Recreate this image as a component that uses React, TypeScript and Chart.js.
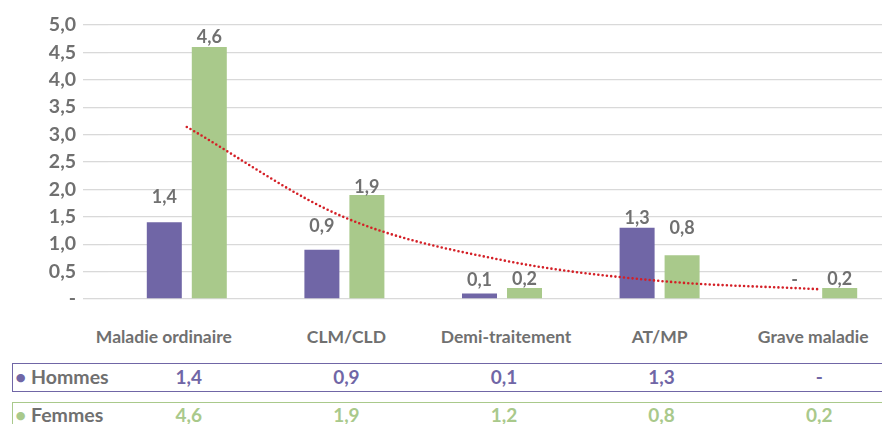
import React, { useEffect, useRef, useState } from "react";
import { Chart, registerables } from "chart.js";

Chart.register(...registerables);

// ---- data ----
const categories = ["Maladie ordinaire", "CLM/CLD", "Demi-traitement", "AT/MP", "Grave maladie"];
const hommes = [1.4, 0.9, 0.1, 1.3, 0];
const femmes = [4.6, 1.9, 0.2, 0.8, 0.2];
const hommesTable = [1.4, 0.9, 0.1, 1.3, 0];
const femmesTable = [4.6, 1.9, 1.2, 0.8, 0.2];
const trend = [3.14, 1.49, 0.71, 0.33, 0.18];
const yMin = 0;
const yMax = 5;
const yStep = 0.5;

// ---- styles ----
const GRAY = "#707070";
const PURPLE = "#7066a6";
const GREEN = "#a9c98b";
const RED = "#d42027";
const GRID = "#d9d9d9";
const FONT = "Lato, 'Open Sans', sans-serif";
const labelLifts = [
  [16, 14, 4, 1, 10],
  [1, -1, 0, 18, 0],
];
const catLabelShift = [-23, 2, 4, 0, -4];

const fmt = (v: number) => (v === 0 ? "-" : v.toFixed(1).replace(".", ","));

const barLabelsPlugin = {
  id: "barLabels",
  afterDatasetsDraw(chart: any, _args: any, opts: any) {
    const ctx = chart.ctx;
    ctx.save();
    ctx.font = `bold 18px ${FONT}`;
    ctx.fillStyle = GRAY;
    ctx.textAlign = "center";
    ctx.textBaseline = "middle";
    [0, 1].forEach((di) => {
      const meta = chart.getDatasetMeta(di);
      meta.data.forEach((el: any, i: number) => {
        const v = chart.data.datasets[di].data[i] as number;
        const lift = opts.lifts[di][i];
        ctx.fillText(fmt(v), el.x, el.y - 9 - lift);
      });
    });
    ctx.restore();
  },
};

export default function App() {
  const canvasRef = useRef<HTMLCanvasElement | null>(null);
  const [centers, setCenters] = useState<number[]>([]);

  useEffect(() => {
    if (!canvasRef.current) return;
    const chart = new Chart(canvasRef.current, {
      type: "bar",
      data: {
        labels: categories,
        datasets: [
          {
            type: "bar",
            label: "Hommes",
            data: hommes,
            backgroundColor: PURPLE,
            categoryPercentage: 0.571,
            barPercentage: 0.778,
            order: 1,
          },
          {
            type: "bar",
            label: "Femmes",
            data: femmes,
            backgroundColor: GREEN,
            categoryPercentage: 0.571,
            barPercentage: 0.778,
            order: 1,
          },
          {
            type: "line",
            label: "Tendance",
            data: trend,
            borderColor: RED,
            borderWidth: 2.6,
            borderDash: [0, 4.3],
            borderCapStyle: "round",
            pointRadius: 0,
            cubicInterpolationMode: "monotone",
            fill: false,
            order: 0,
          } as any,
        ],
      },
      options: {
        responsive: false,
        animation: false,
        devicePixelRatio: 1,
        layout: { padding: { top: 25, bottom: 21, left: 0, right: 0 } },
        plugins: {
          legend: { display: false },
          tooltip: { enabled: false },
          barLabels: { lifts: labelLifts },
        } as any,
        scales: {
          x: {
            type: "category",
            display: false,
            offset: true,
          },
          y: {
            min: yMin,
            max: yMax,
            border: { display: false },
            grid: {
              color: GRID,
              lineWidth: 1.3,
              drawTicks: true,
              tickLength: 25,
              tickColor: GRID,
            },
            ticks: {
              stepSize: yStep,
              padding: 7,
              color: GRAY,
              font: { family: FONT, size: 19.5, weight: "bold" },
              callback: (v: any) => fmt(Number(v)),
            },
            afterFit: (scale: any) => {
              scale.width = 108;
            },
          },
        },
      },
      plugins: [barLabelsPlugin as any],
    });
    const xs = chart.scales.x;
    setCenters(categories.map((_, i) => xs.getPixelForValue(i)));
    return () => chart.destroy();
  }, []);

  const textBase: React.CSSProperties = {
    position: "absolute",
    fontFamily: FONT,
    fontWeight: 700,
    whiteSpace: "nowrap",
    textAlign: "center",
  };

  return (
    <div
      style={{
        position: "fixed",
        left: 0,
        top: 0,
        width: 882,
        height: 424,
        overflow: "hidden",
        background: "#fff",
      }}
    >
      <canvas
        ref={canvasRef}
        width={896}
        height={320}
        style={{ position: "absolute", left: 0, top: 0, width: 896, height: 320 }}
      />
      {centers.map((c, i) => (
        <div
          key={"cat" + i}
          style={{
            ...textBase,
            left: c - 100 + catLabelShift[i],
            width: 200,
            top: 327,
            fontSize: 17.5,
            lineHeight: "20px",
            color: GRAY,
          }}
        >
          {categories[i]}
        </div>
      ))}
      <div
        style={{
          position: "absolute",
          left: 12,
          top: 363,
          width: 900,
          height: 29,
          border: `1.5px solid ${PURPLE}`,
          boxSizing: "border-box",
        }}
      />
      <div
        style={{
          position: "absolute",
          left: 12,
          top: 402,
          width: 900,
          height: 40,
          border: `1.5px solid ${GREEN}`,
          boxSizing: "border-box",
        }}
      />
      <div
        style={{
          ...textBase,
          textAlign: "left",
          left: 15,
          top: 366,
          fontSize: 19.5,
          lineHeight: "22px",
          color: GRAY,
        }}
      >
        <span style={{ color: PURPLE }}>•</span> Hommes
      </div>
      <div
        style={{
          ...textBase,
          textAlign: "left",
          left: 15,
          top: 404,
          fontSize: 19.5,
          lineHeight: "22px",
          color: GRAY,
        }}
      >
        <span style={{ color: GREEN }}>•</span> Femmes
      </div>
      {centers.map((c, i) => (
        <div
          key={"h" + i}
          style={{
            ...textBase,
            left: c - 50 + 2,
            width: 100,
            top: 366,
            fontSize: 19,
            lineHeight: "22px",
            color: PURPLE,
          }}
        >
          {fmt(hommesTable[i])}
        </div>
      ))}
      {centers.map((c, i) => (
        <div
          key={"f" + i}
          style={{
            ...textBase,
            left: c - 50 + 2,
            width: 100,
            top: 404,
            fontSize: 19,
            lineHeight: "22px",
            color: GREEN,
          }}
        >
          {fmt(femmesTable[i])}
        </div>
      ))}
    </div>
  );
}
